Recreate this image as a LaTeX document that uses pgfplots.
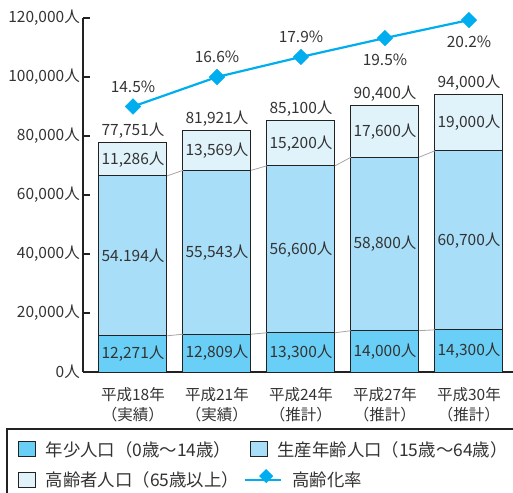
\documentclass[border=0pt]{standalone}
\usepackage{fontspec}
\setmainfont{Noto Sans CJK JP}
\usepackage{pgfplots}
\pgfplotsset{compat=1.18}
\usepackage{pgfplotstable}
\definecolor{young}{HTML}{6ACFF6}
\definecolor{work}{HTML}{A8DEF8}
\definecolor{old}{HTML}{E0F3FB}
\definecolor{rateblue}{HTML}{00AEEF}
\definecolor{txt}{HTML}{333333}
\definecolor{edge}{HTML}{222222}
\newcommand\lab{\fontsize{15.5pt}{18pt}\selectfont}
\newcommand\xlab{\fontsize{15.5pt}{20pt}\selectfont}
\newcommand\leglab{\fontsize{17.4pt}{20pt}\selectfont}

\pgfplotstableread{
x young work old total ry rate dy yl wl ol tl
0 12271 54194 11286 77751 90000 14.5 20 12,271人 54.194人 11,286人 77,751人
1 12809 55543 13569 81921 100000 16.6 20 12,809人 55,543人 13,569人 81,921人
2 13300 56600 15200 85100 106800 17.9 20 13,300人 56,600人 15,200人 85,100人
3 14000 58800 17600 90400 113200 19.5 -22 14,000人 58,800人 17,600人 90,400人
4 14300 60700 19000 94000 119300 20.2 -22 14,300人 60,700人 19,000人 94,000人
}\data

\begin{document}
\begin{tikzpicture}[font=\lab]
\begin{axis}[
  at={(83pt,120pt)}, anchor=south west, scale only axis,
  width=430pt, height=354pt,
  xmin=-0.595, xmax=4.524, ymin=0, ymax=120000,
  scaled y ticks=false,
  ybar stacked, bar width=68pt,
  axis x line*=bottom, axis y line*=left,
  axis line style={line width=1.3pt, draw=edge},
  xtick={0,1,2,3,4},
  xticklabels={{平成18年\\（実績）},{平成21年\\（実績）},{平成24年\\（推計）},{平成27年\\（推計）},{平成30年\\（推計）}},
  xticklabel style={align=center, font=\xlab, text=txt, inner sep=0pt, yshift=-15pt},
  x tick style={draw=none},
  ytick={0,20000,40000,60000,80000,100000,120000},
  yticklabels={0人,{20,000人},{40,000人},{60,000人},{80,000人},{100,000人},{120,000人}},
  yticklabel style={font=\lab, text=txt, inner sep=0pt, xshift=-3pt},
  y tick style={line width=1.2pt, draw=edge},
  tick align=inside, major tick length=7pt,
  legend columns=2,
  legend cell align=left,
  legend style={at={(rel axis cs:0,0)}, anchor=north west, xshift=-65pt, yshift=-67pt,
    draw=none, fill=none, font=\leglab, text=txt, inner xsep=0pt, inner ysep=0pt, row sep=10pt,
    /tikz/every odd column/.append style={column sep=7.5pt},
    /tikz/every even column/.append style={column sep=9pt}},
]
\addplot[fill=young, draw=edge, line width=1pt,
  legend image code/.code={\draw[fill=young, draw=edge, line width=1pt] (0pt,-7.5pt) rectangle (17pt,7.5pt);}]
  table[x=x, y=young]{\data};
\addlegendentry{年少人口（0歳～14歳）}
\addplot[fill=work, draw=edge, line width=1pt,
  legend image code/.code={\draw[fill=work, draw=edge, line width=1pt] (0pt,-7.5pt) rectangle (17pt,7.5pt);}]
  table[x=x, y=work]{\data};
\addlegendentry{生産年齢人口（15歳～64歳）}
\addplot[fill=old, draw=edge, line width=1pt,
  legend image code/.code={\draw[fill=old, draw=edge, line width=1pt] (0pt,-7.5pt) rectangle (17pt,7.5pt);}]
  table[x=x, y=old]{\data};
\addlegendentry{高齢者人口（65歳以上）}
\addlegendimage{legend image code/.code={\draw[rateblue, line width=2.2pt, overlay] (-6pt,0pt) -- (30pt,0pt);
   \node[overlay, fill=rateblue, rotate=45, minimum size=10pt, inner sep=0pt] at (12pt,0pt) {};}}
\addlegendentry{\hspace{15pt}高齢化率}
\end{axis}

\begin{axis}[
  at={(83pt,120pt)}, anchor=south west, scale only axis,
  width=430pt, height=354pt,
  xmin=-0.595, xmax=4.524, ymin=0, ymax=120000,
  hide axis, clip=false,
  /pgf/number format/assume math mode=true,
]
% connector lines
\addplot[gray!70, line width=0.8pt, unbounded coords=jump] coordinates {
 (0.405,12271) (0.595,12809) (1,nan) (1.405,12809) (1.595,13300) (2,nan)
 (2.405,13300) (2.595,14000) (3,nan) (3.405,14000) (3.595,14300)};
\addplot[gray!70, line width=0.8pt, unbounded coords=jump] coordinates {
 (0.405,66465) (0.595,68352) (1,nan) (1.405,68352) (1.595,69900) (2,nan)
 (2.405,69900) (2.595,72800) (3,nan) (3.405,72800) (3.595,75000)};
% segment labels
\addplot[only marks, mark=none, point meta=explicit symbolic, nodes near coords,
  every node near coord/.append style={anchor=center, text=txt, font=\lab}]
  table[x=x, y expr=\thisrow{young}/2, meta=yl]{\data};
\addplot[only marks, mark=none, point meta=explicit symbolic, nodes near coords,
  every node near coord/.append style={anchor=center, text=txt, font=\lab}]
  table[x=x, y expr=\thisrow{young}+\thisrow{work}/2, meta=wl]{\data};
\addplot[only marks, mark=none, point meta=explicit symbolic, nodes near coords,
  every node near coord/.append style={anchor=center, text=txt, font=\lab}]
  table[x=x, y expr=\thisrow{young}+\thisrow{work}+\thisrow{old}/2, meta=ol]{\data};
\addplot[only marks, mark=none, point meta=explicit symbolic, nodes near coords,
  every node near coord/.append style={anchor=south, inner sep=0pt, yshift=4pt, text=txt, font=\lab}]
  table[x=x, y=total, meta=tl]{\data};
% ageing rate
\addplot[rateblue, line width=2.2pt, mark=square*, mark size=5.5pt,
  mark options={solid, rotate=45, line width=0.4pt},
  point meta=\thisrow{rate},
  visualization depends on={\thisrow{dy} \as \dy},
  nodes near coords={\pgfmathprintnumber[fixed, fixed zerofill, precision=1, assume math mode=true]{\pgfplotspointmeta}\%},
  every node near coord/.append style={anchor=center, yshift=\dy pt, text=txt, font=\lab}]
  table[x=x, y=ry]{\data};
\end{axis}
\draw[edge, line width=1.2pt] (7pt,-30pt) -- (7pt,63pt) -- (540pt,63pt);
\pgfresetboundingbox
\path[use as bounding box] (0pt,0pt) rectangle (513pt,492pt);
\end{tikzpicture}
\end{document}
